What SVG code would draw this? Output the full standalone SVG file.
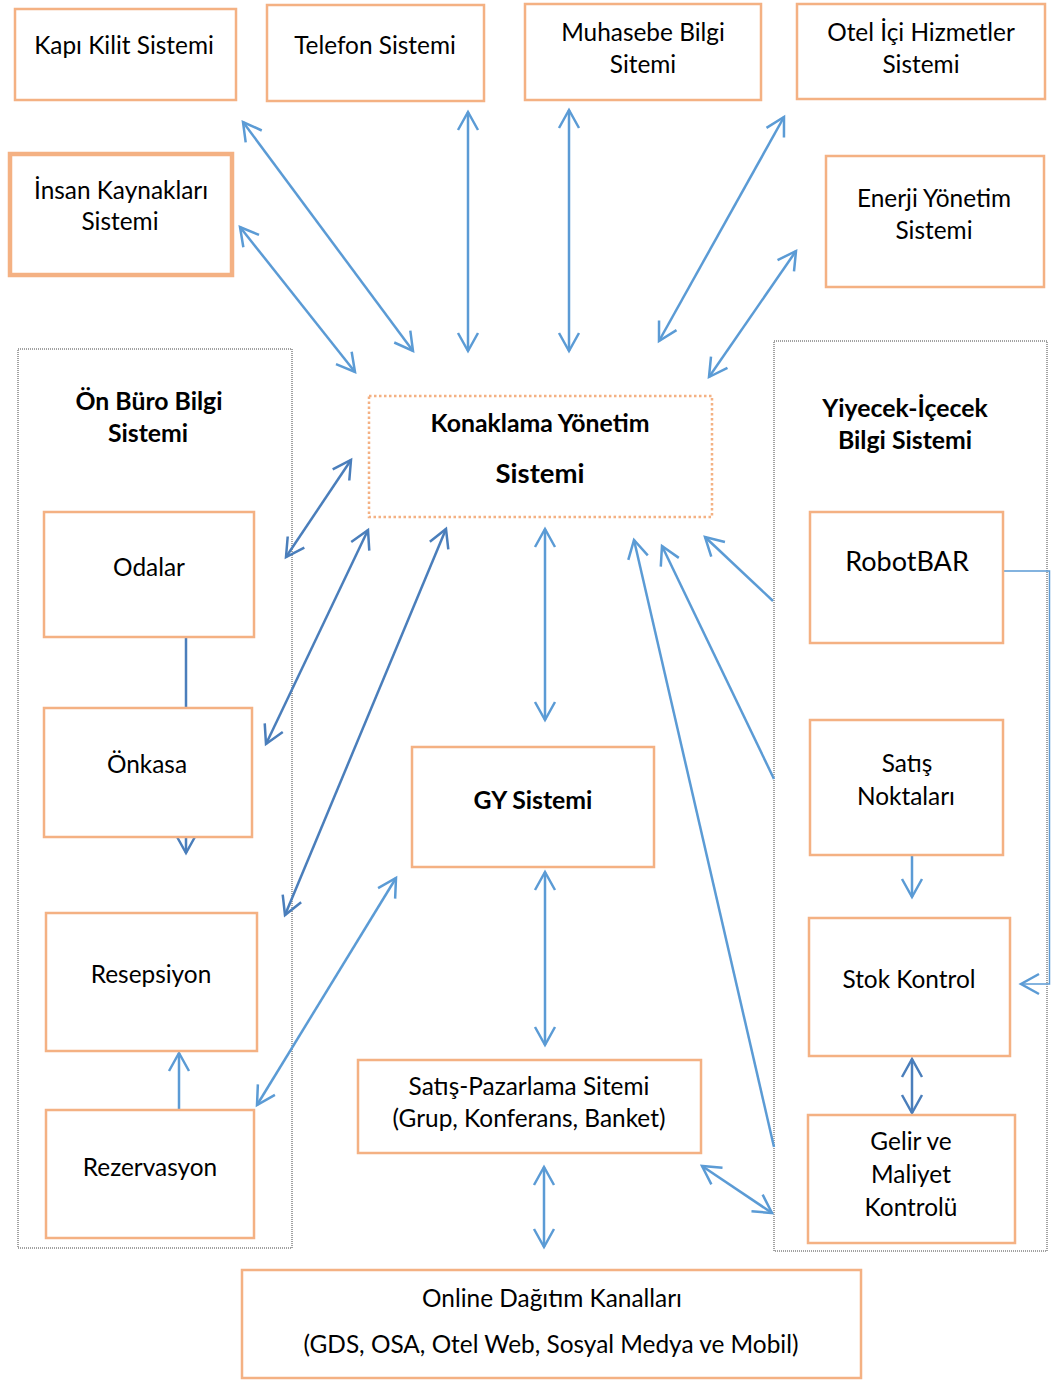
<svg xmlns="http://www.w3.org/2000/svg" width="1051" height="1380" viewBox="0 0 1051 1380">
<style>
.box{fill:#fff;stroke:#F4B183;stroke-width:2.5}
.thick{stroke-width:4.5}
.kys{fill:#fff;stroke:#F4B183;stroke-width:2.5;stroke-dasharray:2.5 2.5}
.grp{fill:none;stroke:#444;stroke-width:1;stroke-dasharray:1 1}
.t{font-family:Lato,"Liberation Sans",sans-serif;font-size:24.4px;fill:#000;text-anchor:middle}
.b{font-weight:bold;font-size:24.8px}
.l{fill:none;stroke:#5B9BD5;stroke-width:2.5}
.d{fill:none;stroke:#4A7EBB;stroke-width:2.5}
.thin{fill:none;stroke:#5B9BD5;stroke-width:1.5}
</style>
<defs>
<marker id="ml" viewBox="-22 -13 26 26" refX="0" refY="0" markerWidth="26" markerHeight="26" markerUnits="userSpaceOnUse" orient="auto-start-reverse"><path d="M-18,-10 L0,0 L-18,10" fill="none" stroke="#5B9BD5" stroke-width="2.5"/></marker>
<marker id="md" viewBox="-22 -13 26 26" refX="0" refY="0" markerWidth="26" markerHeight="26" markerUnits="userSpaceOnUse" orient="auto-start-reverse"><path d="M-18,-10 L0,0 L-18,10" fill="none" stroke="#4A7EBB" stroke-width="2.5"/></marker>
</defs>
<rect width="1051" height="1380" fill="#fff"/>

<g id="groups">
<rect id="onburo" class="grp" x="18" y="349" width="274" height="899"/>
<rect id="yiyecek" class="grp" x="774" y="341" width="273" height="910"/>
</g>

<g id="connectors">
<line class="l" x1="243" y1="122" x2="413" y2="351" marker-start="url(#ml)" marker-end="url(#ml)"/>
<line class="l" x1="240" y1="227" x2="355" y2="372" marker-start="url(#ml)" marker-end="url(#ml)"/>
<line class="l" x1="468" y1="112" x2="468" y2="351" marker-start="url(#ml)" marker-end="url(#ml)"/>
<line class="l" x1="569" y1="110" x2="569" y2="351" marker-start="url(#ml)" marker-end="url(#ml)"/>
<line class="l" x1="784" y1="117" x2="659" y2="341" marker-start="url(#ml)" marker-end="url(#ml)"/>
<line class="l" x1="796" y1="251" x2="709" y2="377" marker-start="url(#ml)" marker-end="url(#ml)"/>

<line class="d" x1="351" y1="460" x2="286" y2="557" marker-start="url(#md)" marker-end="url(#md)"/>
<line class="d" x1="368" y1="530" x2="266" y2="744" marker-start="url(#md)" marker-end="url(#md)"/>
<line class="d" x1="446" y1="529" x2="285" y2="915" marker-start="url(#md)" marker-end="url(#md)"/>

<line class="l" x1="545" y1="529" x2="545" y2="720" marker-start="url(#ml)" marker-end="url(#ml)"/>
<line class="l" x1="545" y1="872" x2="545" y2="1045" marker-start="url(#ml)" marker-end="url(#ml)"/>
<line class="l" x1="544" y1="1167" x2="544" y2="1247" marker-start="url(#ml)" marker-end="url(#ml)"/>
<line class="l" x1="396" y1="878" x2="257" y2="1105" marker-start="url(#ml)" marker-end="url(#ml)"/>
<line class="l" x1="702" y1="1166" x2="772" y2="1213" marker-start="url(#ml)" marker-end="url(#ml)"/>

<line class="l" x1="773" y1="601" x2="705" y2="537" marker-end="url(#ml)"/>
<line class="l" x1="774" y1="779" x2="662" y2="546" marker-end="url(#ml)"/>
<line class="l" x1="774" y1="1147" x2="634" y2="540" marker-end="url(#ml)"/>

<line class="d" x1="186" y1="637" x2="186" y2="708"/>
<line class="d" x1="186" y1="837" x2="186" y2="853" marker-end="url(#md)"/>
<line class="l" x1="179" y1="1109" x2="179" y2="1053" marker-end="url(#ml)"/>

<line class="l" x1="912" y1="855" x2="912" y2="897" marker-end="url(#ml)"/>
<line class="d" x1="912" y1="1059" x2="912" y2="1113" marker-start="url(#md)" marker-end="url(#md)"/>
<polyline class="thin" points="1003,571 1049.5,571 1049.5,984 1021,984" marker-end="url(#ml)"/>
</g>

<g id="kapi"><rect class="box" x="15" y="9" width="221" height="91"/><text class="t" x="124" y="54">Kapı Kilit Sistemi</text></g>
<g id="telefon"><rect class="box" x="267" y="5" width="217" height="96"/><text class="t" x="375" y="54">Telefon Sistemi</text></g>
<g id="muhasebe"><rect class="box" x="525" y="4" width="236" height="96"/><text class="t" x="643" y="41">Muhasebe Bilgi</text><text class="t" x="643" y="73">Sitemi</text></g>
<g id="otelici"><rect class="box" x="797" y="4" width="248" height="95"/><text class="t" x="921" y="41">Otel İçi Hizmetler</text><text class="t" x="921" y="73">Sistemi</text></g>
<g id="insan"><rect class="box thick" x="10" y="154" width="222" height="121"/><text class="t" x="121" y="199">İnsan Kaynakları</text><text class="t" x="120" y="230">Sistemi</text></g>
<g id="enerji"><rect class="box" x="826" y="156" width="218" height="131"/><text class="t" x="934" y="207">Enerji Yönetim</text><text class="t" x="934" y="239">Sistemi</text></g>

<g id="onburo-label"><text class="t b" x="149" y="410">Ön Büro Bilgi</text><text class="t b" x="148" y="442">Sistemi</text></g>
<g id="yiyecek-label"><text class="t b" x="905" y="417">Yiyecek-İçecek</text><text class="t b" x="905" y="449">Bilgi Sistemi</text></g>

<g id="konaklama"><rect class="kys" x="369" y="396" width="343" height="121"/><text class="t b" x="540" y="432">Konaklama Yönetim</text><text class="t b" x="540" y="483" style="font-size:27.5px">Sistemi</text></g>

<g id="odalar"><rect class="box" x="44" y="512" width="210" height="125"/><text class="t" x="149" y="576">Odalar</text></g>
<g id="onkasa"><rect class="box" x="44" y="708" width="208" height="129"/><text class="t" x="147" y="773">Önkasa</text></g>
<g id="resepsiyon"><rect class="box" x="46" y="913" width="211" height="138"/><text class="t" x="151" y="983">Resepsiyon</text></g>
<g id="rezervasyon"><rect class="box" x="46" y="1110" width="208" height="128"/><text class="t" x="150" y="1176">Rezervasyon</text></g>

<g id="gy"><rect class="box" x="412" y="747" width="242" height="120"/><text class="t b" x="533" y="809">GY Sistemi</text></g>
<g id="satispazarlama"><rect class="box" x="358" y="1060" width="343" height="93"/><text class="t" x="529" y="1095">Satış-Pazarlama Sitemi</text><text class="t" x="529" y="1127">(Grup, Konferans, Banket)</text></g>
<g id="online"><rect class="box" x="242" y="1270" width="619" height="108"/><text class="t" x="552" y="1307">Online Dağıtım Kanalları</text><text class="t" x="551" y="1353">(GDS, OSA, Otel Web, Sosyal Medya ve Mobil)</text></g>

<g id="robotbar"><rect class="box" x="810" y="512" width="193" height="131"/><text class="t" x="907" y="571" style="font-size:27px">RobotBAR</text></g>
<g id="satisnoktalari"><rect class="box" x="810" y="720" width="193" height="135"/><text class="t" x="907" y="772">Satış</text><text class="t" x="906" y="805">Noktaları</text></g>
<g id="stok"><rect class="box" x="809" y="918" width="201" height="138"/><text class="t" x="909" y="988">Stok Kontrol</text></g>
<g id="gelir"><rect class="box" x="808" y="1115" width="207" height="128"/><text class="t" x="911" y="1150">Gelir ve</text><text class="t" x="911" y="1183">Maliyet</text><text class="t" x="911" y="1216">Kontrolü</text></g>
</svg>
